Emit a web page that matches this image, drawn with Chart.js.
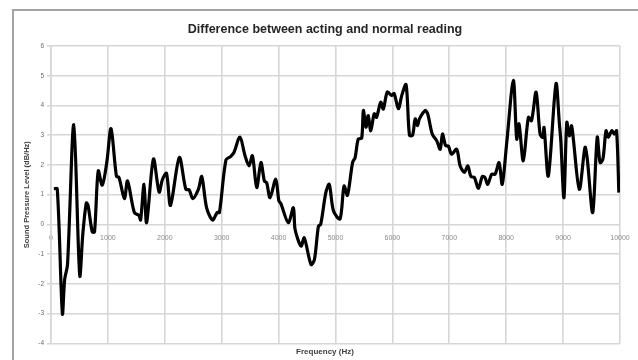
<!DOCTYPE html>
<html>
<head>
<meta charset="utf-8">
<script src="https://cdn.jsdelivr.net/npm/chart.js@4.4.1/dist/chart.umd.min.js"></script>
<style>
    body { margin: 0; background: #ffffff; }
    #caixa { position: relative; width: 638px; height: 360px; overflow: hidden; }
    #moldura { position: absolute; left: 12px; top: 9px; right: -4px; bottom: -4px;
        border-top: 2px solid #a3a3a3; border-left: 2px solid #a3a3a3; }
</style>
</head>
<body>
<div id="caixa">
    <div id="moldura"></div>
    <canvas id="myChart1"></canvas>
</div>
<script>
// frequencia (Hz) e diferenca de nivel (dB/Hz)
var frequencias = [
    50, 110, 200, 240, 290, 400, 505, 560, 620, 650, 725, 765, 830, 900, 980,
    1055, 1150, 1195, 1290, 1345, 1465, 1545, 1575, 1635, 1680, 1800, 1900, 1960,
    2030, 2100, 2255, 2370, 2430, 2490, 2590, 2650, 2735, 2840, 2920, 2960,
    3075, 3160, 3215, 3320, 3410, 3480, 3540, 3615, 3690, 3750, 3790, 3850, 3950,
    4005, 4040, 4170, 4260, 4290, 4395, 4450, 4570, 4630, 4700, 4740, 4830, 4890, 4965,
    5080, 5150, 5210, 5300, 5345, 5400, 5460, 5490, 5535, 5575, 5620, 5680, 5720,
    5795, 5840, 5910, 5985, 6030, 6105, 6165, 6240, 6300, 6355, 6400, 6440, 6475,
    6575, 6620, 6700, 6780, 6840, 6880, 6935, 6985, 7040, 7130, 7190, 7265, 7325,
    7380, 7440, 7510, 7580, 7625, 7675, 7745, 7805, 7875, 7930, 8010, 8125, 8185,
    8225, 8300, 8390, 8445, 8525, 8595, 8640, 8665, 8740, 8875, 8935, 8960, 9015,
    9065, 9110, 9150, 9180, 9285, 9385, 9425, 9520, 9600, 9650, 9700, 9755, 9795,
    9855, 9900, 9940, 9980
];
var diferencas = [
    1.2, 1.2, -3.0, -1.85, -1.35, 3.35, -1.72, -0.3, 0.72, 0.65, -0.25, -0.25, 1.8, 1.32, 2.08,
    3.22, 1.62, 1.58, 0.87, 1.46, 0.4, 0.3, 0.15, 1.35, 0.06, 2.2, 1.09, 1.52,
    1.72, 0.64, 2.25, 1.18, 1.16, 0.87, 1.18, 1.61, 0.56, 0.15, 0.4, 0.4,
    2.17, 2.29, 2.42, 2.94, 2.31, 1.97, 2.31, 1.24, 2.08, 1.46, 1.4, 0.9, 1.52,
    0.79, 0.7, 0.06, 0.56, -0.17, -0.73, -0.45, -1.35, -1.18, -0.06, 0.0, 1.07, 1.35, 0.45,
    0.19, 1.29, 0.98, 2.08, 2.25, 2.87, 2.9, 3.83, 3.27, 3.66, 3.15, 3.72, 3.6,
    4.11, 3.88, 4.45, 4.34, 4.4, 3.89, 4.34, 4.7, 3.0, 3.0, 3.55, 3.32, 3.55,
    3.83, 3.72, 3.04, 2.81, 2.53, 3.04, 2.65, 2.63, 2.36, 2.53, 1.97, 1.75, 1.97,
    1.61, 1.58, 1.21, 1.61, 1.58, 1.35, 1.69, 1.69, 2.08, 1.35, 2.76, 4.84, 2.87,
    3.38, 2.14, 3.6, 3.49, 4.45, 3.04, 2.93, 3.26, 1.63, 4.73, 3.38, 2.81, 0.9,
    3.43, 2.98, 3.32, 2.87, 1.18, 2.59, 2.2, 0.4, 2.93, 2.08, 2.2, 3.15, 2.93,
    3.15, 3.04, 3.15, 1.07
];
var ticksX = [0, 1000, 2000, 3000, 4000, 5000, 6000, 7000, 8000, 9000, 10000];
var ticksY = [-4, -3, -2, -1, 0, 1, 2, 3, 4, 5, 6];

var pontos = [];
for (let contador = 0; contador < frequencias.length; contador++) {
    pontos.push({ x: frequencias[contador], y: diferencas[contador] });
}

const corGrade = '#d6d6d6';
const ctx1 = document.getElementById('myChart1');

new Chart(ctx1, {
    type: 'line',
    data: {
        datasets: [{
            label: 'Difference',
            data: pontos,
            borderColor: '#000000',
            borderWidth: 3.2,
            pointRadius: 0,
            tension: 0.3,
            fill: false
        }]
    },
    options: {
        responsive: true,
        maintainAspectRatio: false,
        animation: false,
        layout: {
            padding: { left: 30, right: 18, top: 10, bottom: 1 }
        },
        plugins: {
            legend: { display: false },
            tooltip: { enabled: false },
            title: {
                display: true,
                text: 'Difference between acting and normal reading',
                color: '#262626',
                font: { family: 'Liberation Sans', size: 12.5, weight: 'bold' },
                padding: { top: 12, bottom: 9 }
            },
            subtitle: {
                display: true,
                position: 'bottom',
                text: 'Frequency (Hz)',
                color: '#404040',
                font: { family: 'Liberation Sans', size: 8, weight: 'bold' },
                padding: { top: 4, bottom: 2 }
            }
        },
        scales: {
            x: {
                type: 'linear',
                position: { y: 0 },
                min: 0,
                max: 10000,
                afterBuildTicks: function (escala) {
                    escala.ticks = ticksX.map(v => ({ value: v }));
                },
                ticks: {
                    color: '#8a8a8a',
                    font: { family: 'Liberation Sans', size: 7 },
                    padding: 5,
                    maxRotation: 0,
                    autoSkip: false,
                    callback: function (valor) { return String(valor); }
                },
                grid: {
                    color: corGrade,
                    lineWidth: 1.6,
                    tickLength: 4,
                    tickColor: 'rgba(0,0,0,0)'
                },
                border: { display: false }
            },
            y: {
                min: -4,
                max: 6,
                afterBuildTicks: function (escala) {
                    escala.ticks = ticksY.map(v => ({ value: v }));
                },
                afterFit: function (escala) {
                    escala.width = 21;
                },
                ticks: {
                    color: '#6a6a6a',
                    font: { family: 'Liberation Sans', size: 6.5 },
                    padding: 3
                },
                grid: {
                    color: corGrade,
                    lineWidth: 1.6,
                    tickLength: 4
                },
                border: { color: corGrade, width: 1.6 },
                title: {
                    display: true,
                    text: 'Sound Pressure Level (dB/Hz)',
                    color: '#404040',
                    font: { family: 'Liberation Sans', size: 7.5, weight: 'bold' },
                    padding: { top: -7.5, bottom: 0 }
                }
            }
        }
    }
});
</script>
</body>
</html>
